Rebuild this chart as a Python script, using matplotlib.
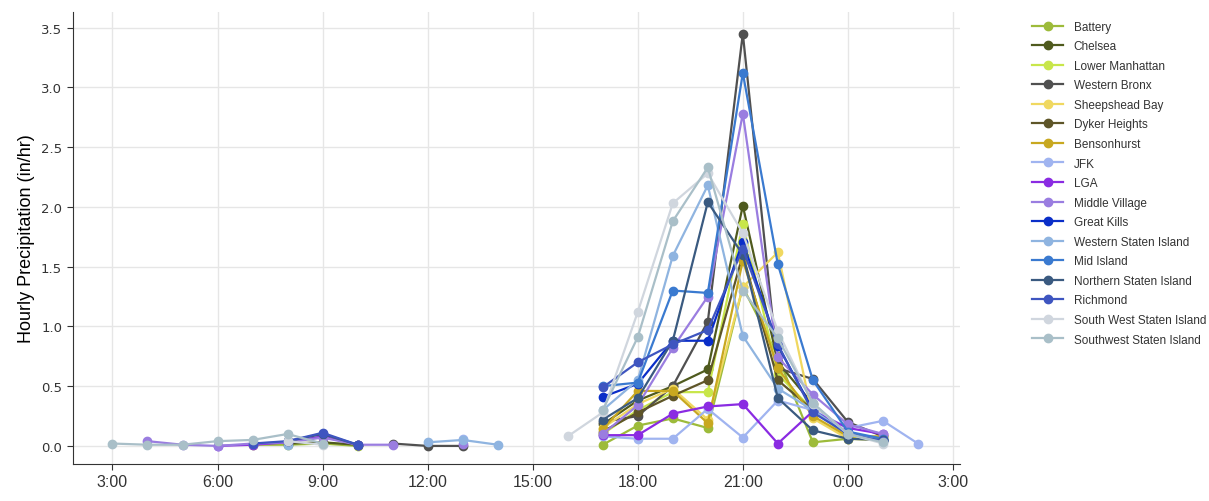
import numpy as np
import matplotlib
matplotlib.use("Agg")
import matplotlib.pyplot as plt

nan = np.nan

# hours 3:00 .. 2:00 next day (24 = midnight)
hours = list(range(3, 27))
tick_hours = [3, 6, 9, 12, 15, 18, 21, 24, 27]
tick_labels = ["3:00", "6:00", "9:00", "12:00", "15:00", "18:00", "21:00", "0:00", "3:00"]

#            3    4    5    6    7    8    9    10   11   12   13   14   15   16   17   18   19   20   21   22   23   24   25   26
battery = [nan, nan, nan, nan, 0.01, 0.01, 0.02, 0.00, nan, nan, nan, nan, nan, nan, 0.01, 0.17, 0.23, 0.15, 1.33, 0.75, 0.03, 0.06, 0.05, nan]
chelsea = [nan, nan, nan, nan, nan, 0.02, 0.03, 0.01, nan, nan, nan, nan, nan, nan, 0.18, 0.38, 0.50, 0.64, 2.01, 0.70, 0.35, 0.10, 0.06, nan]
lower_manhattan = [nan, nan, nan, nan, nan, nan, nan, nan, nan, nan, nan, nan, nan, nan, 0.10, 0.30, 0.45, 0.45, 1.86, 0.60, 0.30, 0.08, 0.05, nan]
western_bronx = [nan, nan, nan, nan, nan, nan, nan, nan, 0.02, 0.00, 0.00, nan, nan, nan, 0.20, 0.25, 0.50, 1.04, 3.45, 0.65, 0.56, 0.20, 0.08, nan]
sheepshead_bay = [nan, nan, nan, nan, nan, nan, nan, nan, nan, nan, nan, nan, nan, nan, 0.15, 0.35, 0.48, 0.22, 1.33, 1.62, 0.23, 0.06, 0.05, nan]
dyker_heights = [nan, nan, nan, nan, nan, nan, nan, nan, nan, nan, nan, nan, nan, nan, 0.12, 0.28, 0.42, 0.55, 1.60, 0.55, 0.30, 0.10, 0.05, nan]
bensonhurst = [nan, nan, nan, nan, nan, nan, nan, nan, nan, nan, nan, nan, nan, nan, 0.14, 0.46, 0.46, 0.19, 1.55, 0.65, 0.25, 0.08, 0.08, nan]
jfk = [nan, nan, nan, nan, nan, nan, nan, nan, nan, nan, 0.06, nan, nan, nan, 0.08, 0.06, 0.06, 0.31, 0.07, 0.38, 0.30, 0.15, 0.21, 0.02]
lga = [nan, nan, nan, 0.00, 0.01, 0.03, 0.08, 0.01, nan, nan, nan, nan, nan, nan, 0.09, 0.09, 0.27, 0.33, 0.35, 0.02, 0.29, 0.15, 0.10, nan]
middle_village = [nan, 0.04, 0.01, 0.00, 0.02, 0.03, 0.07, 0.01, 0.01, nan, 0.02, nan, nan, nan, 0.10, 0.34, 0.82, 1.25, 2.78, 0.74, 0.43, 0.18, 0.10, nan]
great_kills = [nan, nan, nan, nan, nan, nan, nan, nan, nan, nan, nan, nan, nan, nan, 0.41, 0.52, 0.88, 0.88, 1.71, 0.84, 0.30, 0.10, 0.05, nan]
western_staten = [nan, nan, nan, nan, nan, 0.01, nan, nan, nan, 0.03, 0.05, 0.01, nan, nan, 0.30, 0.55, 1.59, 2.18, 0.92, 0.48, 0.30, 0.10, 0.05, nan]
mid_island = [nan, nan, nan, nan, nan, nan, nan, nan, nan, nan, nan, nan, nan, nan, 0.50, 0.53, 1.30, 1.28, 3.12, 1.52, 0.55, 0.12, 0.06, nan]
northern_staten = [nan, nan, nan, nan, nan, 0.04, 0.10, 0.01, nan, nan, nan, nan, nan, nan, 0.22, 0.40, 0.88, 2.04, 1.60, 0.40, 0.13, 0.06, 0.05, nan]
richmond = [nan, nan, nan, nan, 0.02, 0.04, 0.11, 0.01, nan, nan, nan, nan, nan, nan, 0.49, 0.70, 0.85, 0.97, 1.65, 0.85, 0.28, 0.10, 0.04, nan]
south_west_staten = [nan, nan, nan, nan, nan, 0.04, 0.01, nan, nan, nan, nan, nan, nan, 0.08, 0.28, 1.12, 2.03, 2.28, 1.78, 0.96, 0.35, 0.10, 0.02, nan]
southwest_staten = [0.02, 0.01, 0.01, 0.04, 0.05, 0.10, 0.02, nan, nan, nan, nan, nan, nan, nan, 0.30, 0.91, 1.88, 2.33, 1.30, 0.90, 0.36, 0.10, 0.03, nan]

series = [
    ("Battery", battery, "#9dbb3a"),
    ("Chelsea", chelsea, "#4f5a1e"),
    ("Lower Manhattan", lower_manhattan, "#c8e64a"),
    ("Western Bronx", western_bronx, "#505050"),
    ("Sheepshead Bay", sheepshead_bay, "#f0d860"),
    ("Dyker Heights", dyker_heights, "#5e5528"),
    ("Bensonhurst", bensonhurst, "#c8a820"),
    ("JFK", jfk, "#a0b4f0"),
    ("LGA", lga, "#8a2be2"),
    ("Middle Village", middle_village, "#9a7de0"),
    ("Great Kills", great_kills, "#0a2ec8"),
    ("Western Staten Island", western_staten, "#8fb4e0"),
    ("Mid Island", mid_island, "#3a7ad0"),
    ("Northern Staten Island", northern_staten, "#3a5a80"),
    ("Richmond", richmond, "#3e55c0"),
    ("South West Staten Island", south_west_staten, "#d0d6de"),
    ("Southwest Staten Island", southwest_staten, "#a9bfc8"),
]

fig = plt.figure(figsize=(12.09, 5.02), dpi=100)
ax = fig.add_axes([0.060, 0.074, 0.734, 0.900])

for name, vals, color in series:
    ax.plot(hours, vals, color=color, marker="o", markersize=6, linewidth=1.6, label=name)

ax.set_xlim(1.86, 27.2)
ax.set_ylim(-0.15, 3.63)
ax.set_xticks(tick_hours)
ax.set_xticklabels(tick_labels, fontfamily="Liberation Sans", fontsize=11.5)
ax.set_yticks([0, 0.5, 1.0, 1.5, 2.0, 2.5, 3.0, 3.5])
ax.set_yticklabels(["0.0", "0.5", "1.0", "1.5", "2.0", "2.5", "3.0", "3.5"], color="#444444", fontsize=9.5)
ax.set_ylabel("Hourly Precipitation (in/hr)", fontfamily="Liberation Sans", fontsize=13)
ax.grid(True, color="#e6e6e6", linewidth=1)
ax.set_axisbelow(True)
for s in ["top", "right"]:
    ax.spines[s].set_visible(False)
for s in ["left", "bottom"]:
    ax.spines[s].set_color("#333333")
ax.tick_params(colors="#333333", length=4)

leg = fig.legend(loc="upper left", bbox_to_anchor=(0.845, 0.978), frameon=False,
                 prop={"family": "Liberation Sans", "size": 8.5}, handlelength=2.6,
                 handletextpad=0.9, labelspacing=0.64)
for t in leg.get_texts():
    t.set_color("#333333")

fig.savefig("out.png", dpi=100)
